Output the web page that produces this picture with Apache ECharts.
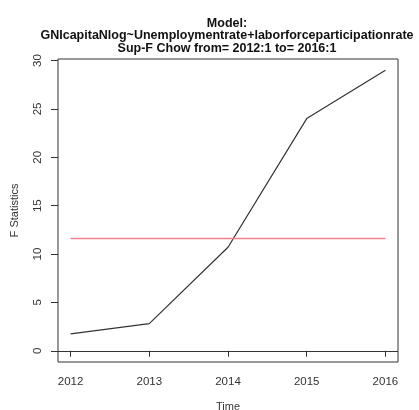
<!DOCTYPE html>
<html><head><meta charset="utf-8">
<script src="https://cdn.jsdelivr.net/npm/echarts@6/dist/echarts.min.js"></script>
<style>html,body{margin:0;padding:0;background:#fff}#c{width:419px;height:410px}</style>
</head><body><div id="c"></div>
<script>
const years = [2012, 2013, 2014, 2015, 2016];
const fStats = [1.75, 2.8, 10.7, 24.0, 29.0];
const critValue = 11.6;
const yTicks = [0, 5, 10, 15, 20, 25, 30];
const titleLines = ['Model:', 'GNIcapitaNlog~Unemploymentrate+laborforceparticipationrate', 'Sup-F Chow from= 2012:1 to= 2016:1'];

const chart = echarts.init(document.getElementById('c'), null, {renderer: 'canvas'});
const font = 'Liberation Sans, Arial, sans-serif';
chart.setOption({
  animation: false,
  title: {
    text: titleLines.join('\n'),
    left: 222, top: 12, textAlign: 'center',
    textStyle: {fontFamily: font, fontSize: 12.5, fontWeight: 'bold', color: '#111', lineHeight: 12.5}
  },
  grid: {left: 58, right: 21, top: 59, bottom: 48, show: true, borderColor: '#333', borderWidth: 1,
         backgroundColor: 'transparent', containLabel: false, outerBoundsMode: 'none'},
  xAxis: {
    type: 'value', min: 2011.84, max: 2016.16,
    name: 'Time', nameLocation: 'middle', nameGap: 39,
    nameTextStyle: {fontFamily: font, fontSize: 11, color: '#333'},
    splitLine: {show: false},
    axisLine: {show: false},
    axisTick: {show: true, inside: false, length: 6, customValues: years, lineStyle: {color: '#333'}},
    axisLabel: {customValues: years, fontFamily: font, fontSize: 11.5, color: '#333', margin: 14, formatter: v => String(v)}
  },
  yAxis: {
    type: 'value', min: -1.16, max: 30.16,
    name: 'F Statistics', nameLocation: 'middle', nameGap: 38, nameRotate: 90,
    nameTextStyle: {fontFamily: font, fontSize: 11, color: '#333'},
    splitLine: {show: false},
    axisLine: {show: false},
    axisTick: {show: true, inside: false, length: 7, customValues: yTicks, lineStyle: {color: '#333'}},
    axisLabel: {customValues: yTicks, rotate: 90, fontFamily: font, fontSize: 11.5, color: '#333', margin: 14, formatter: v => String(v)}
  },
  series: [
    {
      type: 'line', data: years.map((y, i) => [y, fStats[i]]),
      symbol: 'none', lineStyle: {color: '#333', width: 1.2},
      markLine: {silent: true, symbol: 'none', label: {show: false},
        lineStyle: {color: '#333', width: 1.2, type: 'solid'},
        data: [{yAxis: 0}]}
    },
    {
      type: 'line', data: [[years[0], critValue], [years[years.length - 1], critValue]],
      symbol: 'none', lineStyle: {color: '#f0808a', width: 1.5}
    }
  ]
});
</script></body></html>
